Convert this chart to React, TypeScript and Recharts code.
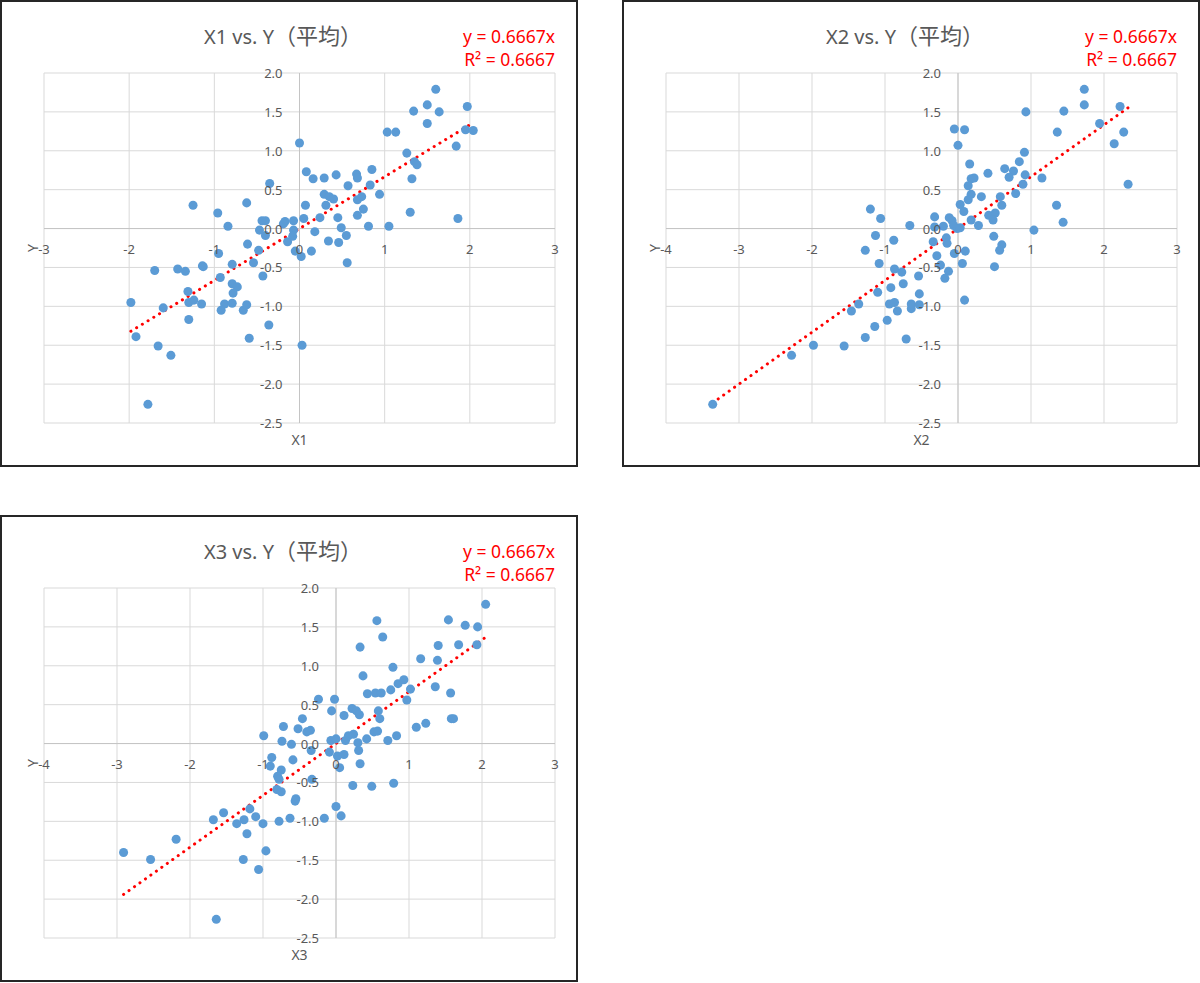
import React from 'react';
import { ScatterChart, Scatter, XAxis, YAxis, ZAxis, CartesianGrid, ReferenceLine } from 'recharts';

// ---------- data ----------
const x1Values = [0.00, 1.60, 1.50, 1.34, 1.64, 1.50, 1.97, 1.95, 2.04, 1.84, 1.86, 1.03, 1.13, 1.26, 1.35, 1.38, 1.32, 1.30, 1.05, 0.85,
  0.83, 0.94, 0.67, 0.68, 0.57, 0.43, 0.29, 0.16, 0.08, 0.29, 0.35, 0.40, 0.31, 0.07, 0.68, 0.73, 0.75, 0.68, 0.45, 0.24,
  0.05, 0.49, 0.81, -0.07, -0.17, -0.19, -0.07, -0.14, -0.08, 0.18, 0.34, 0.46, 0.55, 0.56, 0.14, -0.05, 0.02, 0.03, -0.35, -0.62,
  -0.44, -0.40, -0.47, -0.40, -0.61, -0.48, -0.54, -0.43, -1.25, -0.96, -0.84, -0.95, -1.13, -0.79, -0.93, -0.79, -0.73, -0.78, -0.88, -0.92,
  -0.79, -0.66, -0.62, -0.59, -0.36, -1.98, -1.92, -1.70, -1.66, -1.51, -1.78, -1.60, -1.43, -1.34, -1.14, -1.31, -1.30, -1.24, -1.15, -1.30];
const y1Values = [1.10, 1.79, 1.59, 1.51, 1.50, 1.35, 1.57, 1.27, 1.26, 1.06, 0.13, 1.24, 1.24, 0.97, 0.86, 0.82, 0.64, 0.21, 0.03, 0.76,
  0.56, 0.44, 0.70, 0.65, 0.55, 0.69, 0.65, 0.64, 0.73, 0.44, 0.41, 0.38, 0.30, 0.30, 0.37, 0.41, 0.25, 0.17, 0.14, 0.14,
  0.13, 0.01, 0.03, 0.10, 0.09, 0.06, -0.02, -0.17, -0.10, -0.04, -0.16, -0.18, -0.09, -0.44, -0.29, -0.29, -0.36, -1.50, 0.58, 0.33,
  0.10, 0.10, -0.02, -0.09, -0.20, -0.28, -0.44, -0.61, 0.30, 0.20, 0.03, -0.32, -0.49, -0.46, -0.63, -0.71, -0.75, -0.83, -0.97, -1.05,
  -0.96, -1.05, -0.98, -1.41, -1.24, -0.95, -1.39, -0.54, -1.51, -1.63, -2.26, -1.02, -0.52, -0.55, -0.48, -0.81, -0.95, -0.92, -0.97, -1.17];

const x2Values = [0.93, -0.05, 0.09, 0.00, 0.91, 0.16, 0.84, 0.64, 0.76, 0.70, 0.41, 0.92, 1.15, 0.18, 0.22, 0.14, 0.18, 0.14, 0.32, 0.58,
  0.60, 0.79, 0.89, 0.03, 0.08, 0.42, 0.51, 0.48, 0.18, 0.28, -0.12, -0.08, -0.06, -0.01, 0.03, -0.20, -0.32, -0.32, -0.66, -1.20,
  -1.06, -1.13, -1.27, -0.88, -1.08, -0.34, -0.16, -0.15, -0.29, -0.05, 0.10, 0.06, 0.49, 0.60, 0.57, 0.50, 1.04, -0.24, -0.13, -0.18,
  -0.54, -0.87, -0.77, -0.75, -0.92, -1.10, -0.53, -0.94, -0.87, -0.83, -0.64, -0.64, -0.53, 0.09, -1.46, -1.36, -0.97, -1.14, -1.27, -0.71,
  -3.36, -2.28, -1.98, -1.56, 1.73, 1.73, 2.22, 1.45, 1.94, 1.36, 2.27, 2.14, 2.33, 1.35, 1.44];
const y2Values = [1.50, 1.28, 1.27, 1.07, 0.98, 0.83, 0.86, 0.77, 0.74, 0.66, 0.71, 0.69, 0.65, 0.64, 0.65, 0.55, 0.44, 0.37, 0.41, 0.41,
  0.30, 0.45, 0.57, 0.31, 0.22, 0.17, 0.20, 0.11, 0.11, 0.04, 0.14, 0.10, 0.04, 0.00, 0.01, 0.03, 0.15, 0.02, 0.04, 0.25,
  0.13, -0.09, -0.28, -0.15, -0.45, -0.17, -0.12, -0.19, -0.35, -0.32, -0.29, -0.45, -0.10, -0.21, -0.28, -0.49, -0.02, -0.47, -0.55, -0.64,
  -0.61, -0.52, -0.56, -0.71, -0.76, -0.82, -0.84, -0.97, -0.95, -1.06, -1.03, -0.97, -0.98, -0.92, -1.06, -0.97, -1.18, -1.26, -1.40, -1.42,
  -2.26, -1.63, -1.50, -1.51, 1.79, 1.59, 1.57, 1.51, 1.35, 1.24, 1.24, 1.09, 0.57, 0.30, 0.08];

const x3Values = [0.56, 0.64, 0.33, 1.16, 1.40, 1.39, 0.78, 0.37, 0.85, 0.93, 1.02, 0.75, 1.36, 0.97, 0.43, 0.54, 0.62, -0.02, -0.24, -0.06,
  0.22, 0.28, 0.32, 0.11, 0.58, 0.60, 1.10, 1.23, -0.46, -0.72, -0.52, -0.40, -0.35, 0.52, 0.57, 0.83, 0.71, 0.42, 0.24, 0.17,
  0.13, -0.07, 0.00, 0.30, 0.31, 0.33, 0.05, 0.11, 0.02, -0.09, -0.34, -0.99, -0.74, -0.61, -0.88, -0.90, -0.59, -0.75, -0.80, -0.78,
  -0.81, -0.75, -0.33, 0.23, 0.49, 0.79, -0.55, -0.56, 0.00, 0.07, -0.16, -0.63, -0.78, -1.00, -1.10, -1.18, -1.26, -1.36, -1.22, -1.54,
  -1.68, -0.96, -1.27, -1.06, -2.91, -2.54, -2.19, -1.64, 2.05, 1.54, 1.77, 1.94, 1.68, 1.93, 1.57, 1.58, 1.61];
const y3Values = [1.58, 1.37, 1.24, 1.09, 1.26, 1.07, 0.98, 0.87, 0.77, 0.82, 0.70, 0.69, 0.73, 0.56, 0.64, 0.65, 0.65, 0.57, 0.57, 0.42,
  0.45, 0.42, 0.37, 0.36, 0.42, 0.32, 0.21, 0.26, 0.32, 0.22, 0.19, 0.15, 0.17, 0.15, 0.16, 0.10, 0.04, 0.06, 0.12, 0.10,
  0.04, 0.04, 0.06, 0.01, -0.09, -0.26, -0.31, -0.14, -0.16, -0.11, -0.09, 0.10, 0.03, -0.01, -0.18, -0.29, -0.21, -0.34, -0.42, -0.46,
  -0.59, -0.62, -0.46, -0.54, -0.55, -0.51, -0.71, -0.74, -0.81, -0.93, -0.96, -0.96, -1.00, -1.03, -0.94, -0.84, -0.98, -1.03, -1.16, -0.89,
  -0.98, -1.38, -1.49, -1.62, -1.40, -1.49, -1.23, -2.26, 1.79, 1.59, 1.52, 1.50, 1.27, 1.27, 0.65, 0.32, 0.32];

const yTicks = [-2.5, -2.0, -1.5, -1.0, -0.5, 0.0, 0.5, 1.0, 1.5, 2.0];
const xTicksWide = [-3, -2, -1, 0, 1, 2, 3];
const xTicksLong = [-4, -3, -2, -1, 0, 1, 2, 3];
const trendSlope = 0.6667;
const trendLabel = 'y = 0.6667x';
const r2Label = 'R² = 0.6667';
const titleSuffix = '（平均）';

// ---------- layout ----------
const W = 578;
const H = 467;
const AX = 1; // thickness reserved by each axis
const M = { top: 73, right: 23, bottom: 43, left: 43 };
const PW = W - M.left - M.right - AX;
const PH = H - M.top - M.bottom - AX;
const PLOT_LEFT = M.left + AX;
const GREY = '#595959';
const FONT = '"Noto Sans", "Noto Sans CJK JP", sans-serif';
const CJK_FONT = '"Noto Sans CJK JP", "Noto Sans", sans-serif';

type PanelProps = {
  xs: number[];
  ys: number[];
  xTicks: number[];
  xName: string;
  title: string;
  left: number;
  top: number;
};

function Panel({ xs, ys, xTicks, xName, title, left, top }: PanelProps) {
  const data = xs.map((x, i) => ({ x, y: ys[i] }));
  const xMin = xTicks[0];
  const xMax = xTicks[xTicks.length - 1];
  const yMin = yTicks[0];
  const yMax = yTicks[yTicks.length - 1];
  const zeroY = M.top + (PH * yMax) / (yMax - yMin);
  const zeroX = PLOT_LEFT + (PW * -xMin) / (xMax - xMin);
  const minX = Math.min(...xs);
  const maxX = Math.max(...xs);

  const xTick = (p: any) => (
    <text x={p.x} y={zeroY + 20} textAnchor="middle" dominantBaseline="central" fill={GREY} fontSize={13} fontFamily={FONT}>
      {String(p.payload.value)}
    </text>
  );
  const yTick = (p: any) => (
    <text x={zeroX - 17} y={p.y} textAnchor="end" dominantBaseline="central" fill={GREY} fontSize={13} fontFamily={FONT}>
      {Number(p.payload.value).toFixed(1)}
    </text>
  );
  const xLabel = () => (
    <text x={PLOT_LEFT + PW / 2} y={M.top + PH + 16.5} textAnchor="middle" dominantBaseline="central" fill={GREY} fontSize={14} fontFamily={FONT}>
      {xName}
    </text>
  );
  const yLabel = () => {
    const cx = 32;
    const cy = M.top + PH / 2;
    return (
      <text x={cx} y={cy} transform={`rotate(-90 ${cx} ${cy})`} textAnchor="middle" dominantBaseline="central" fill={GREY} fontSize={14} fontFamily={FONT}>
        Y
      </text>
    );
  };

  return (
    <div style={{ position: 'absolute', left, top, width: W, height: H, background: '#fff' }}>
      <ScatterChart width={W} height={H} margin={M} style={{ position: 'absolute', left: 0, top: 0 }}>
        <CartesianGrid stroke="#D9D9D9" strokeWidth={1} />
        <XAxis
          type="number"
          dataKey="x"
          domain={[xMin, xMax]}
          ticks={xTicks}
          height={AX}
          axisLine={false}
          tickLine={false}
          tick={xTick}
          interval={0}
          label={{ content: xLabel }}
        />
        <YAxis
          type="number"
          dataKey="y"
          domain={[yMin, yMax]}
          ticks={yTicks}
          width={AX}
          axisLine={false}
          tickLine={false}
          tick={yTick}
          interval={0}
          label={{ content: yLabel }}
        />
        <ZAxis range={[78, 78]} />
        <ReferenceLine x={0} stroke="#C4C4C4" strokeWidth={1} />
        <ReferenceLine y={0} stroke="#C4C4C4" strokeWidth={1} />
        <Scatter data={data} fill="#5B9BD5" isAnimationActive={false} />
        <ReferenceLine
          segment={[{ x: minX, y: trendSlope * minX }, { x: maxX, y: trendSlope * maxX }]}
          stroke="#FF0000"
          strokeWidth={3}
          strokeDasharray="0.1 6.6"
          strokeLinecap="round"
        />
      </ScatterChart>
      <div
        style={{
          position: 'absolute', left: 283, top: 19, transform: 'translateX(-50%)', whiteSpace: 'nowrap',
          fontFamily: FONT, fontSize: 20, lineHeight: '30px', color: GREY,
        }}
      >
        {title}
        <span style={{ fontFamily: CJK_FONT, fontSize: 22 }}>{titleSuffix}</span>
      </div>
      <div
        style={{
          position: 'absolute', right: 23, top: 25, textAlign: 'right', whiteSpace: 'nowrap',
          fontFamily: FONT, fontSize: 17.5, lineHeight: '23px', color: '#FF0000',
        }}
      >
        <div>{trendLabel}</div>
        <div>{r2Label}</div>
      </div>
      <div
        style={{
          position: 'absolute', left: 0, top: 0, width: W, height: H, boxSizing: 'border-box',
          border: '2px solid #262626', pointerEvents: 'none',
        }}
      />
    </div>
  );
}

export default function App() {
  return (
    <div style={{ position: 'absolute', left: 0, top: 0, width: 1200, height: 983, background: '#fff' }}>
      <Panel xs={x1Values} ys={y1Values} xTicks={xTicksWide} xName="X1" title="X1 vs. Y" left={0} top={0} />
      <Panel xs={x2Values} ys={y2Values} xTicks={xTicksLong} xName="X2" title="X2 vs. Y" left={622} top={0} />
      <Panel xs={x3Values} ys={y3Values} xTicks={xTicksLong} xName="X3" title="X3 vs. Y" left={0} top={515} />
    </div>
  );
}
